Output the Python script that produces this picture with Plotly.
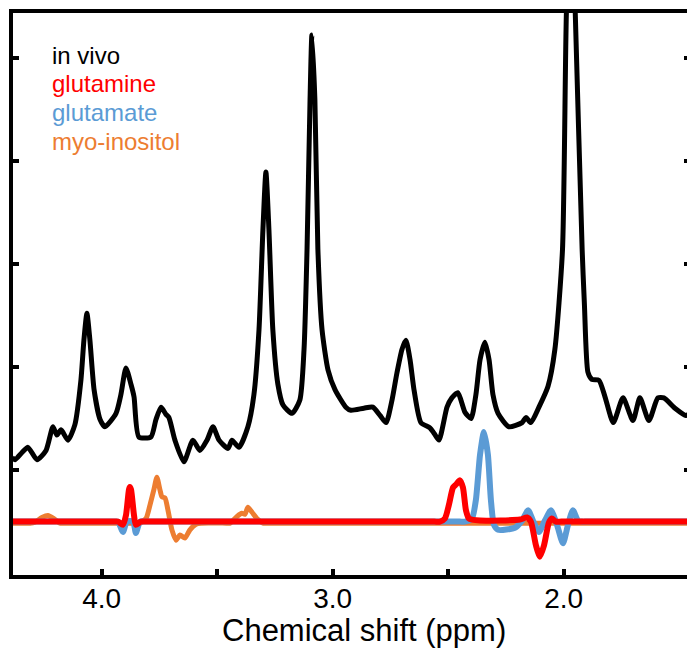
import plotly.graph_objects as go

# ---- data (ppm, arbitrary intensity units) ----
invivo_ppm = [4.388, 4.375, 4.345, 4.319, 4.280, 4.241, 4.211, 4.194, 4.176, 4.146, 4.116,
              4.090, 4.077, 4.064, 4.051, 4.033, 4.007, 3.986, 3.938, 3.917, 3.895,
              3.873, 3.860, 3.839, 3.787, 3.765, 3.743, 3.722, 3.709, 3.683, 3.644,
              3.605, 3.575, 3.544, 3.518, 3.492, 3.453, 3.436, 3.406, 3.367, 3.341,
              3.319, 3.302, 3.289, 3.276, 3.259, 3.237, 3.215, 3.176, 3.142, 3.124,
              3.111, 3.098, 3.090, 3.077, 3.064, 3.046, 3.020, 2.990, 2.943, 2.921,
              2.865, 2.826, 2.795, 2.769, 2.743, 2.722, 2.700, 2.683, 2.665, 2.648,
              2.618, 2.579, 2.562, 2.540, 2.505, 2.484, 2.458, 2.427, 2.401, 2.380,
              2.362, 2.341, 2.323, 2.306, 2.284, 2.237, 2.180, 2.163, 2.142, 2.107,
              2.068, 2.038, 2.005, 1.988, 1.966, 1.950, 1.920, 1.910, 1.895, 1.878,
              1.847, 1.821, 1.785, 1.743, 1.700, 1.670, 1.631, 1.592, 1.566, 1.518,
              1.471, 1.453]
invivo_val = [1.12, 1.10, 1.17, 1.22, 1.10, 1.19, 1.42, 1.34, 1.39, 1.29, 1.44,
              1.87, 2.26, 2.52, 2.26, 1.78, 1.49, 1.42, 1.55, 1.73, 1.99,
              1.83, 1.71, 1.32, 1.32, 1.49, 1.61, 1.54, 1.51, 1.29, 1.08,
              1.29, 1.19, 1.29, 1.42, 1.29, 1.21, 1.29, 1.22, 1.42, 1.73,
              2.36, 3.33, 3.89, 3.33, 2.36, 1.83, 1.63, 1.55, 1.68, 2.17,
              3.14, 4.59, 5.22, 4.59, 3.14, 2.36, 1.97, 1.78, 1.61, 1.58,
              1.60, 1.61, 1.53, 1.46, 1.68, 1.94, 2.17, 2.26, 2.07, 1.78,
              1.46, 1.41, 1.36, 1.29, 1.61, 1.70, 1.75, 1.56, 1.50, 1.73,
              2.07, 2.24, 2.07, 1.73, 1.55, 1.42, 1.46, 1.51, 1.46, 1.61,
              1.81, 2.17, 3.14, 5.45, 6.60, 5.45, 3.14, 2.60, 1.95, 1.88,
              1.87, 1.71, 1.46, 1.70, 1.48, 1.70, 1.48, 1.70, 1.70, 1.60,
              1.53, 1.55]

glutamine_ppm = [4.388, 3.950, 3.930, 3.908, 3.895, 3.882, 3.878, 3.873, 3.860, 3.852, 3.830,
                 3.810, 2.560, 2.536, 2.514, 2.497, 2.479, 2.466, 2.449, 2.436, 2.423,
                 2.410, 2.362, 2.189, 2.159, 2.142, 2.120, 2.103, 2.085, 2.064, 2.051,
                 2.034, 2.010, 1.453]
glutamine_val = [0.50, 0.50, 0.50, 0.47, 0.56, 0.81, 0.835, 0.81, 0.56, 0.47, 0.50,
                 0.50, 0.50, 0.50, 0.53, 0.66, 0.83, 0.86, 0.90, 0.83, 0.61,
                 0.53, 0.51, 0.52, 0.54, 0.50, 0.27, 0.16, 0.27, 0.49, 0.53,
                 0.50, 0.50, 0.50]

glutamate_ppm = [4.388, 3.950, 3.930, 3.908, 3.891, 3.864, 3.852, 3.834, 3.810, 2.450,
                 2.427, 2.397, 2.380, 2.362, 2.345, 2.328, 2.315, 2.302, 2.284, 2.211,
                 2.180, 2.154, 2.133, 2.107, 2.081, 2.055, 2.029, 2.003, 1.981, 1.960,
                 1.938, 1.921, 1.900, 1.453]
glutamate_val = [0.50, 0.50, 0.50, 0.40, 0.50, 0.50, 0.39, 0.50, 0.50, 0.50,
                 0.50, 0.53, 0.71, 1.15, 1.37, 1.15, 0.71, 0.47, 0.42, 0.44,
                 0.51, 0.61, 0.51, 0.40, 0.51, 0.61, 0.47, 0.29, 0.47, 0.61,
                 0.51, 0.50, 0.50, 0.50]

myo_ppm = [4.388, 4.310, 4.289, 4.259, 4.233, 4.207, 4.181, 4.160, 3.850, 3.834,
           3.808, 3.791, 3.774, 3.761, 3.748, 3.739, 3.726, 3.713, 3.696, 3.678,
           3.661, 3.640, 3.618, 3.592, 3.570, 3.460, 3.444, 3.414, 3.393, 3.380,
           3.367, 3.349, 3.328, 3.302, 3.280, 1.453]
myo_val = [0.485, 0.485, 0.495, 0.54, 0.56, 0.53, 0.485, 0.485, 0.485, 0.485,
           0.53, 0.66, 0.81, 0.93, 0.81, 0.74, 0.73, 0.61, 0.42, 0.32,
           0.37, 0.34, 0.42, 0.475, 0.485, 0.485, 0.485, 0.55, 0.58, 0.57,
           0.64, 0.59, 0.53, 0.485, 0.485, 0.485]

legend_labels = ["in vivo", "glutamine", "glutamate", "myo-inositol"]
legend_colors = ["#000000", "#FF0000", "#5B9BD5", "#ED7D31"]

x_tickvals = [4.0, 3.5, 3.0, 2.5, 2.0]
x_ticktext = ["4.0", "", "3.0", "", "2.0"]
y_tickvals = [1, 2, 3, 4, 5]

FONT = "Arial, Liberation Sans, sans-serif"

fig = go.Figure()
fig.add_trace(go.Scatter(x=myo_ppm, y=myo_val, mode="lines",
                         line=dict(color=legend_colors[3], width=5, shape="spline", smoothing=0.6)))
fig.add_trace(go.Scatter(x=glutamate_ppm, y=glutamate_val, mode="lines",
                         line=dict(color=legend_colors[2], width=6, shape="spline", smoothing=0.6)))
fig.add_trace(go.Scatter(x=glutamine_ppm, y=glutamine_val, mode="lines",
                         line=dict(color=legend_colors[1], width=6, shape="spline", smoothing=0.6)))
fig.add_trace(go.Scatter(x=invivo_ppm, y=invivo_val, mode="lines",
                         line=dict(color=legend_colors[0], width=5, shape="spline", smoothing=0.6)))
# invisible trace to carry the right-side ticks
fig.add_trace(go.Scatter(x=[invivo_ppm[0]], y=[invivo_val[0]], yaxis="y2", mode="lines",
                         line=dict(width=0), hoverinfo="skip"))

for i, (lab, col) in enumerate(zip(legend_labels, legend_colors)):
    fig.add_annotation(text=lab, xref="paper", yref="paper", x=0.0549,
                       y=[0.9235, 0.8737, 0.8238, 0.7722][i], xanchor="left", yanchor="middle",
                       showarrow=False, font=dict(family=FONT, size=24, color=col))

fig.add_annotation(text="Chemical shift (ppm)", xref="paper", yref="paper", x=0.5215, y=-0.0996,
                   xanchor="center", yanchor="middle", showarrow=False,
                   font=dict(family=FONT, size=31, color="#000000"))

fig.update_layout(
    width=687, height=650,
    margin=dict(l=13, r=0, t=13, b=75),
    paper_bgcolor="white", plot_bgcolor="white",
    showlegend=False,
    xaxis=dict(range=[4.384, 1.466], showgrid=False, zeroline=False,
               showline=True, linecolor="black", linewidth=4, mirror=True,
               ticks="inside", ticklen=6, tickwidth=4, tickcolor="black",
               tickvals=x_tickvals, ticktext=x_ticktext, ticklabelstandoff=-5,
               tickfont=dict(family=FONT, size=28, color="black")),
    yaxis=dict(range=[-0.018, 5.433], showgrid=False, zeroline=False,
               showline=True, linecolor="black", linewidth=4,
               ticks="inside", ticklen=6, tickwidth=4, tickcolor="black",
               tickvals=y_tickvals, showticklabels=False),
    yaxis2=dict(range=[-0.018, 5.433], overlaying="y", side="right", anchor="x",
                showgrid=False, zeroline=False, showline=False,
                ticks="inside", ticklen=3, tickwidth=4, tickcolor="black",
                tickvals=y_tickvals, showticklabels=False),
)

fig.write_html("out.html")
